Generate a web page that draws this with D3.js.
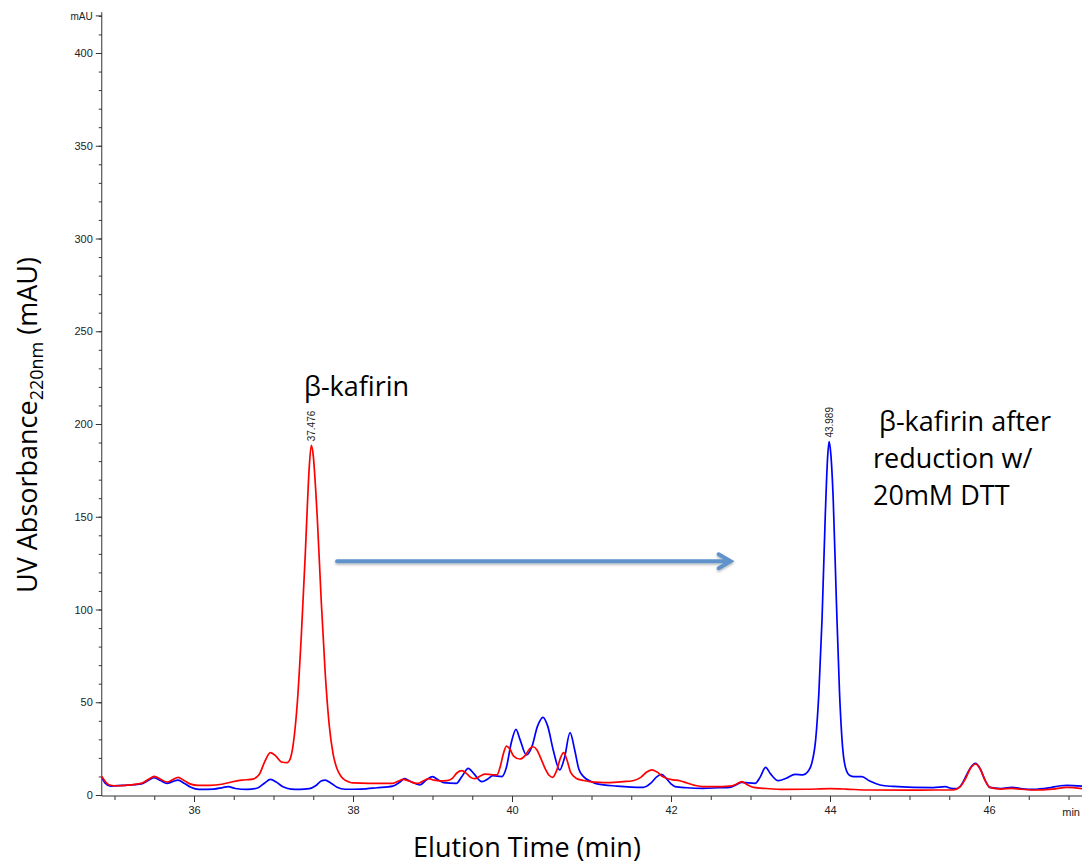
<!DOCTYPE html>
<html>
<head>
<meta charset="utf-8">
<script src="https://cdn.jsdelivr.net/npm/d3@7"></script>
<style>
  html, body { margin: 0; padding: 0; background: #fff; }
  svg { display: block; }
  .tick text { font-family: "Liberation Sans", Arial, sans-serif; }
</style>
</head>
<body>
<svg id="chart" width="1084" height="865"></svg>
<script>
// ---- Data ----
// Red trace: beta-kafirin (non-reduced)
const redTime = [34.84,34.88,34.93,35.0,35.2,35.35,35.43,35.5,35.58,35.66,35.73,35.8,35.87,35.95,36.05,36.2,36.35,36.47,36.6,36.74,36.82,36.89,36.96,37.03,37.10,37.17,37.20,37.25,37.30,37.35,37.40,37.43,37.45,37.476,37.50,37.53,37.55,37.60,37.65,37.70,37.75,37.80,37.85,37.90,37.95,38.0,38.2,38.5,38.57,38.63,38.70,38.78,38.82,38.88,38.95,39.02,39.1,39.18,39.25,39.31,39.37,39.43,39.48,39.53,39.6,39.66,39.74,39.81,39.85,39.89,39.93,39.97,40.02,40.1,40.17,40.22,40.26,40.31,40.36,40.42,40.47,40.51,40.56,40.61,40.65,40.69,40.74,40.81,40.9,40.98,41.1,41.23,41.4,41.52,41.62,41.70,41.76,41.82,41.9,41.95,42.03,42.11,42.2,42.3,42.4,42.55,42.74,42.82,42.89,42.96,43.04,43.2,43.41,43.7,44.0,44.2,44.46,45.0,45.3,45.55,45.64,45.70,45.77,45.83,45.89,45.95,46.01,46.15,46.29,46.4,46.56,46.8,46.98,47.17];
const redValue = [10,7.5,5.5,5.0,5.5,6.5,8.5,10,8.5,7,8.2,9.5,8,6,5.2,5.2,5.8,7,8,8.6,11,18,22.8,21,17.8,17.4,18.5,28,50,86,130,160,177,188.5,183,165,150,105,66,38,22,14,10,8,7,6.5,6.3,6.3,7.5,8.4,7.6,6.4,6.3,7.5,8.8,8,7.6,7.7,9,12,13.1,11.5,9.5,8.8,10.2,11.3,11,10.8,15,22,26.4,25,21,19.4,21.5,24.8,26,24.5,20,14,10.5,9.5,13,20,22.8,19,12,8.9,7.8,7.2,6.8,6.7,7.2,7.7,9.5,12.5,13.5,12.5,9.8,8.9,8.2,7.7,6.5,5.2,4.5,4.5,4.8,5.8,7.2,5.5,4.1,3.5,3.0,3.1,3.4,3.2,2.7,2.6,2.7,2.7,4.5,8.5,14.5,16.7,14,8,4.1,3.2,3.6,3.1,2.7,3.2,4.1,3.4];

// Blue trace: beta-kafirin after reduction with 20mM DTT
const blueTime = [34.84,34.88,34.95,35.1,35.34,35.43,35.5,35.58,35.66,35.73,35.8,35.88,35.96,36.06,36.25,36.36,36.43,36.52,36.67,36.8,36.89,36.96,37.04,37.12,37.22,37.33,37.45,37.53,37.6,37.65,37.72,37.8,37.9,38.1,38.3,38.5,38.59,38.65,38.72,38.84,38.93,39.0,39.07,39.14,39.3,39.37,39.45,39.52,39.62,39.7,39.76,39.87,39.93,39.99,40.05,40.1,40.18,40.25,40.32,40.39,40.45,40.52,40.6,40.66,40.73,40.79,40.84,40.9,41.0,41.07,41.32,41.65,41.75,41.82,41.88,41.94,42.0,42.05,42.2,42.4,42.6,42.74,42.82,42.89,43.06,43.12,43.19,43.25,43.35,43.45,43.56,43.66,43.72,43.77,43.82,43.86,43.90,43.94,43.97,43.989,44.01,44.04,44.08,44.12,44.16,44.20,44.25,44.30,44.40,44.50,44.63,44.8,45.05,45.3,45.45,45.52,45.59,45.66,45.72,45.78,45.83,45.89,45.95,46.01,46.15,46.29,46.45,46.56,46.75,46.9,46.98,47.17];
const blueValue = [9.5,6.5,4.8,5.2,6,8,9.3,7.8,6.3,7.2,8,6.2,4.2,3,3.2,4.0,4.5,3.5,3,3.8,6.5,8.4,6.8,4.4,3.2,3,3.4,5,7.5,8,6.5,4.2,3.1,3.2,3.9,4.8,7,8.8,7.4,5.4,8.4,9.9,8.2,6.7,6.3,10,14.4,11.5,7.2,8.8,10.4,9.9,15,28,35.4,30,21.6,26,37,41.9,37,24,13.5,20,33.6,24,14,9.9,7.2,6.0,4.8,4.1,6.5,9.8,11.1,9,6,4.5,3.9,3.6,3.9,4.1,5.5,6.8,6.3,9.5,14.9,11.5,7.7,9,11.1,10.8,12.5,17,30,55,95,150,182,190.5,184,160,105,55,25,14,10.5,9.9,9.9,7.5,5.4,4.6,4.1,4,4.5,3.6,3.4,6,11,15.5,17,14,8,4.1,3.5,4.1,3.2,3,3.8,5,5.2,4.8];

// Peak annotations
const peakTimes = [37.476, 43.989];
const peakValues = [188.5, 190.5];
const peakLabels = ["37.476", "43.989"];

// Axis ticks
const xTickLabels = [36, 38, 40, 42, 44, 46];
const yTickLabels = [0, 50, 100, 150, 200, 250, 300, 350, 400];

// Annotation texts
const leftNote = ["β-kafirin"];
const rightNote = ["β-kafirin after", "reduction w/", "20mM DTT"];
const arrowTimes = [37.8, 42.75];
const arrowValue = 126;

// ---- Drawing ----
const svg = d3.select("#chart");
const x = d3.scaleLinear().domain([36, 46]).range([194, 989]);
const y = d3.scaleLinear().domain([0, 400]).range([795, 53]);
const xMin = 34.84, xMax = 47.17, yTop = 422;

const tickFont = "Liberation Sans, Arial, sans-serif";
const axisColor = "#333";

// clip
svg.append("clipPath").attr("id", "plotclip")
  .append("rect").attr("x", x(xMin)).attr("y", y(yTop))
  .attr("width", x(xMax) - x(xMin)).attr("height", y(0) - y(yTop) + 2);

// Y axis
const yMinor = d3.range(0, 421, 10);
const yAxisMinor = d3.axisLeft(y).tickValues(yMinor).tickSize(3).tickFormat("");
const yg1 = svg.append("g").attr("transform", `translate(${x(xMin)},0)`).call(yAxisMinor);
yg1.select(".domain").remove();
const yAxis = d3.axisLeft(y).tickValues(yTickLabels).tickSize(6).tickPadding(3);
const yg = svg.append("g").attr("transform", `translate(${x(xMin)},0)`).call(yAxis);
yg.select(".domain").remove();
svg.append("line").attr("x1", x(xMin)).attr("x2", x(xMin))
  .attr("y1", y(0) + 1).attr("y2", y(yTop)).attr("stroke", axisColor).attr("stroke-width", 1);
svg.selectAll(".tick line").attr("stroke", axisColor);
svg.selectAll(".tick text").attr("font-size", 11).attr("fill", "#222").attr("font-family", tickFont);
// mAU unit label at top tick
svg.append("line").attr("x1", x(xMin) - 6).attr("x2", x(xMin))
  .attr("y1", y(420)).attr("y2", y(420)).attr("stroke", axisColor);
svg.append("text").attr("x", x(xMin) - 9).attr("y", y(420) + 4)
  .attr("text-anchor", "end").attr("font-size", 10).attr("font-family", tickFont)
  .attr("fill", "#222").text("mAU");

// X axis
const xMinor = d3.range(35, 47.01, 0.5);
const xAxisMinor = d3.axisBottom(x).tickValues(xMinor).tickSize(4).tickFormat("");
const xg1 = svg.append("g").attr("transform", `translate(0,${y(0) + 1})`).call(xAxisMinor);
xg1.select(".domain").remove();
const xAxis = d3.axisBottom(x).tickValues(xTickLabels).tickSize(6).tickPadding(4).tickFormat(d3.format("d"));
const xg = svg.append("g").attr("transform", `translate(0,${y(0) + 1})`).call(xAxis);
xg.select(".domain").remove();
svg.append("line").attr("x1", x(xMin)).attr("x2", x(xMax))
  .attr("y1", y(0) + 1).attr("y2", y(0) + 1).attr("stroke", axisColor);
svg.selectAll(".tick line").attr("stroke", axisColor);
svg.selectAll(".tick text").attr("font-size", 11).attr("fill", "#222").attr("font-family", tickFont);
svg.append("text").attr("x", x(xMax) - 2).attr("y", y(0) + 21)
  .attr("text-anchor", "end").attr("font-size", 11).attr("font-family", tickFont)
  .attr("fill", "#222").text("min");

// Traces
const line = d3.line().x(d => x(d[0])).y(d => y(d[1])).curve(d3.curveMonotoneX);
const plot = svg.append("g").attr("clip-path", "url(#plotclip)");
plot.append("path").datum(blueTime.map((t, i) => [t, blueValue[i]]))
  .attr("d", line).attr("fill", "none").attr("stroke", "#0000ff").attr("stroke-width", 1.7);
plot.append("path").datum(redTime.map((t, i) => [t, redValue[i]]))
  .attr("d", line).attr("fill", "none").attr("stroke", "#ff0000").attr("stroke-width", 1.7);

// Peak labels (rotated)
peakTimes.forEach((t, i) => {
  svg.append("text")
    .attr("transform", `translate(${x(t) + 4},${y(peakValues[i]) - 4}) rotate(-90)`)
    .attr("font-size", 10).attr("font-family", tickFont).attr("fill", "#222")
    .text(peakLabels[i]);
});

// Arrow
const arrowColor = "#5f93c9";
const defs = svg.append("defs");
const f = defs.append("filter").attr("id", "shadow").attr("x", "-5%").attr("y", "-50%").attr("width", "110%").attr("height", "200%");
f.append("feDropShadow").attr("dx", 0).attr("dy", 1.5).attr("stdDeviation", 1.2).attr("flood-color", "#000").attr("flood-opacity", 0.3);
const ax1 = x(arrowTimes[0]), ax2 = x(arrowTimes[1]), ay = y(arrowValue);
const arrowG = svg.append("g").attr("filter", "url(#shadow)");
arrowG.append("line").attr("x1", ax1).attr("x2", ax2 - 1).attr("y1", ay).attr("y2", ay)
  .attr("stroke", arrowColor).attr("stroke-width", 4).attr("stroke-linecap", "round");
arrowG.append("path").attr("d", `M${ax2 - 12},${ay - 7} L${ax2},${ay} L${ax2 - 12},${ay + 7}`)
  .attr("fill", "none").attr("stroke", arrowColor).attr("stroke-width", 4)
  .attr("stroke-linecap", "round").attr("stroke-linejoin", "miter");

// Notes
const noteFont = "'Open Sans', 'Noto Sans', sans-serif";
svg.append("text").attr("x", 304).attr("y", 396).attr("font-size", 27)
  .attr("font-family", noteFont).attr("fill", "#000").text(leftNote[0]);
rightNote.forEach((s, i) => {
  svg.append("text").attr("x", i === 0 ? 879 : 873).attr("y", 431 + i * 37)
    .attr("font-size", 27).attr("font-family", noteFont).attr("fill", "#000").text(s);
});

// Axis titles
const ylab = svg.append("text").attr("transform", `translate(37,425) rotate(-90)`)
  .attr("text-anchor", "middle").attr("font-size", 27).attr("font-family", noteFont).attr("fill", "#000");
ylab.append("tspan").text("UV Absorbance");
ylab.append("tspan").attr("font-size", 18).attr("dy", 6).text("220nm");
ylab.append("tspan").attr("dy", -6).text(" (mAU)");

svg.append("text").attr("x", 527).attr("y", 857).attr("text-anchor", "middle")
  .attr("font-size", 27).attr("font-family", noteFont).attr("fill", "#000").text("Elution Time (min)");
</script>
</body>
</html>
